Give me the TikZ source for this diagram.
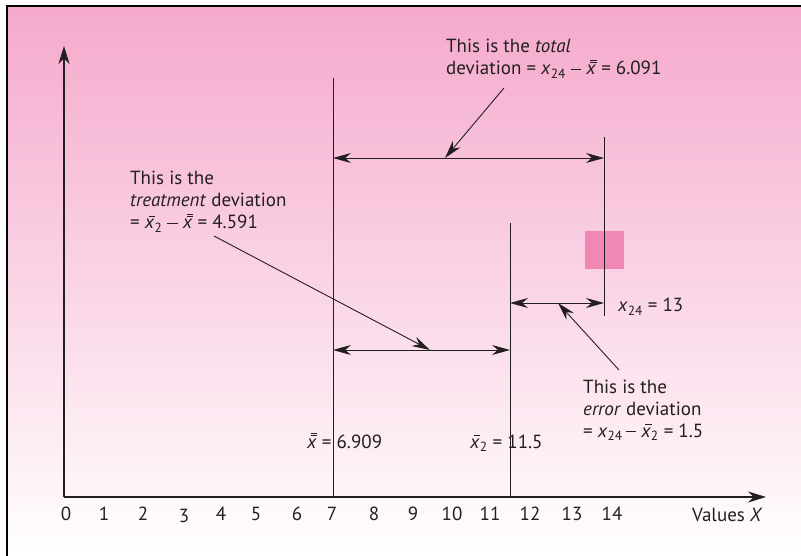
\documentclass[tikz,border=0pt]{standalone}
\usepackage{fontspec}
\setmainfont{PT Sans}
\usetikzlibrary{arrows.meta}
\definecolor{bgpink}{RGB}{245,169,204}
\definecolor{boxpink}{RGB}{240,136,181}
\definecolor{inkgray}{RGB}{35,31,32}
\newcommand{\barline}[1]{\makebox[0pt][l]{\hspace{0.2em}\rule[#1]{0.34em}{0.045em}}}
\newcommand{\xbr}{\barline{0.64em}\textit{x}}
\newcommand{\xbbr}{\barline{0.62em}\barline{0.76em}\textit{x}}
\newcommand{\xsub}[1]{\textit{x}\textsubscript{#1}}
\newcommand{\mn}{\rule[0.25em]{0.55em}{0.05em}}
\tikzset{
  axis/.style={line width=2.4pt,-{Stealth[length=18pt,width=11pt]}},
  guide/.style={line width=0.9pt},
  dim/.style={line width=0.9pt,{Stealth[length=18pt,width=10pt]}-{Stealth[length=18pt,width=10pt]}},
  pointer/.style={line width=0.9pt,-{Stealth[length=18pt,width=10pt]}},
  lbl/.style={anchor=base west,inner sep=0pt,align=left,text=inkgray,
    font=\fontsize{19}{22}\selectfont},
  ticklbl/.style={anchor=base,inner sep=0pt,text=inkgray,
    font=\fontsize{19}{22}\selectfont}
}
\begin{document}
\begin{tikzpicture}[x=1pt,y=-1pt,draw=inkgray]
\useasboundingbox (0,0) rectangle (801,556);
%background and frame
\shade[top color=bgpink,bottom color=white] (7,6) rectangle (801,556);
\draw[line width=1.3pt,black] (7,556) -- (7,6) -- (801,6);
%highlighted observation
\fill[boxpink] (585,231) rectangle (624,269);
%axes
\coordinate (O) at (64,497);
\coordinate (ytop) at (64,46);
\coordinate (xend) at (766,497);
\draw[axis] (O) -- (ytop);
\draw[axis] (O) -- (xend);
%tick labels
\foreach \v/\x in {0/66,1/104,2/143,4/221,5/256,6/297,7/332,8/374,9/413,10/452,11/490,12/530,13/572,14/612}
  \node[ticklbl] (t\v) at (\x,520) {\v};
\node[ticklbl] (t3) at (184,522) {3};
\node[lbl] (valuelbl) at (692,521) {Values \textit{X}};
%vertical lines
\coordinate (gtop) at (333,78);
\coordinate (gbot) at (333,497);
\coordinate (mtop) at (510,223);
\coordinate (mbot) at (510,497);
\coordinate (otop) at (604,137);
\coordinate (obot) at (604,316);
\draw[guide] (gtop) -- (gbot);
\draw[guide] (mtop) -- (mbot);
\draw[guide] (otop) -- (obot);
%deviation arrows
\coordinate (totl) at (333,158);
\coordinate (totr) at (604,158);
\coordinate (trtl) at (333,350);
\coordinate (trtr) at (510,350);
\coordinate (errl) at (510,303);
\coordinate (errr) at (604,303);
\draw[dim] (totl) -- (totr);
\draw[dim] (trtl) -- (trtr);
\draw[dim] (errl) -- (errr);
%labels (base = last line)
\node[lbl] (total) at (446,75) {This is the \textit{total}\\deviation = \xsub{24} \mn{} \xbbr{} = 6.091};
\node[lbl] (treat) at (130,229) {This is the\\\textit{treatment} deviation\\= \xbr\textsubscript{2} \mn{} \xbbr{} = 4.591};
\node[lbl] (err) at (583,437) {This is the\\\textit{error} deviation\\= \xsub{24}\,\mn{} \xbr\textsubscript{2} = 1.5};
\node[lbl] (grandlbl) at (307,448) {\xbbr{} = 6.909};
\node[lbl] (meanlbl) at (470,448) {\xbr\textsubscript{2} = 11.5};
\node[lbl] (obslbl) at (618,312) {\xsub{24} = 13};
%pointers
\coordinate (p1) at (504,88);
\coordinate (q1) at (445,158);
\coordinate (p2) at (214,236);
\coordinate (q2) at (430,350);
\coordinate (p3) at (619,370);
\coordinate (q3) at (558,303);
\draw[pointer] (p1) -- (q1);
\draw[pointer] (p2) -- (q2);
\draw[pointer] (p3) -- (q3);
\end{tikzpicture}
\end{document}
